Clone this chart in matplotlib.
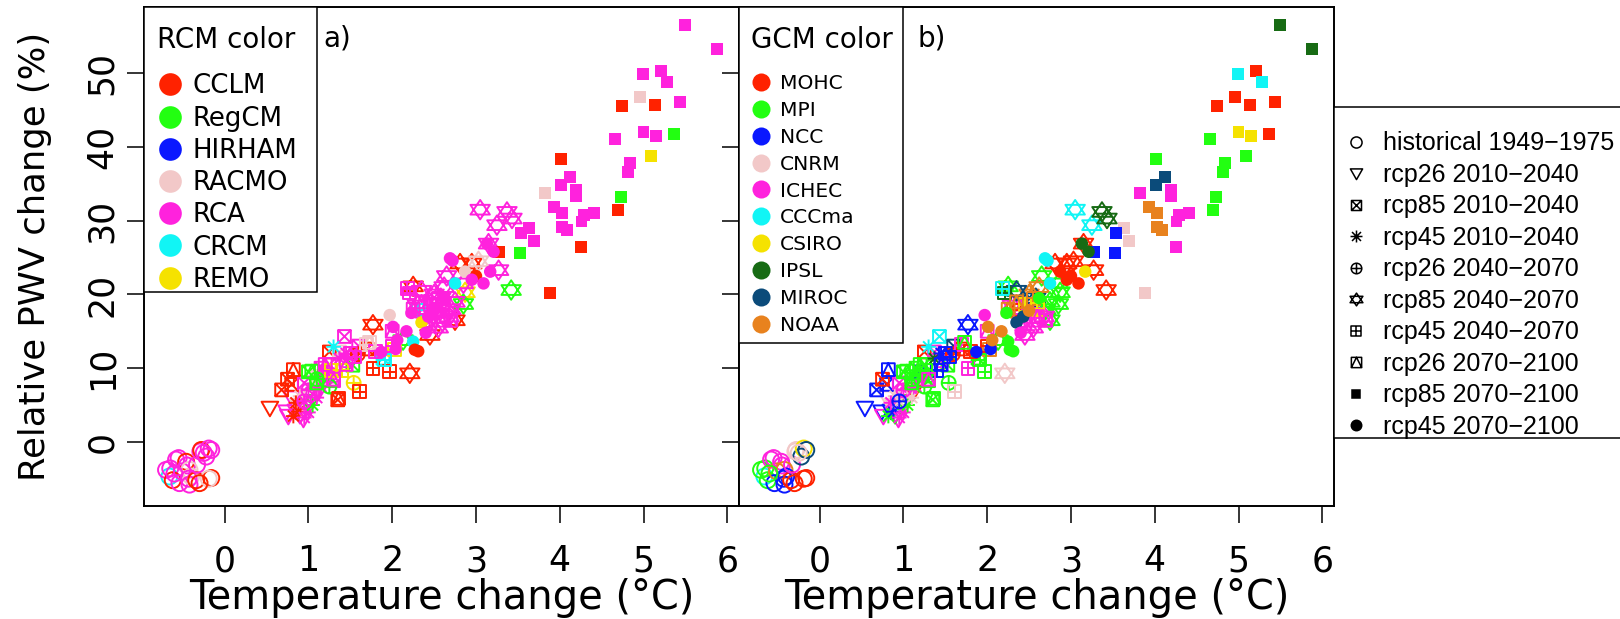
import matplotlib
matplotlib.use("Agg")
import matplotlib.pyplot as plt
from matplotlib.path import Path
from matplotlib.lines import Line2D
from matplotlib.patches import Rectangle

# ---------------- data ----------------
rcm_names = ["CCLM", "RegCM", "HIRHAM", "RACMO", "RCA", "CRCM", "REMO"]
rcm_colors = ["#FF2200", "#22FF11", "#0A18FF", "#F2C8C8", "#FF22DD", "#11F5F5", "#F5E200"]
gcm_names = ["MOHC", "MPI", "NCC", "CNRM", "ICHEC", "CCCma", "CSIRO", "IPSL", "MIROC", "NOAA"]
gcm_colors = ["#FF2200", "#22FF11", "#0A18FF", "#F2C8C8", "#FF22DD", "#11F5F5", "#F5E200",
              "#176B14", "#0B4B7A", "#E8821E"]

scenario_labels = ["historical 1949\u22121975", "rcp26 2010\u22122040", "rcp85 2010\u22122040",
                   "rcp45 2010\u22122040", "rcp26 2040\u22122070", "rcp85 2040\u22122070",
                   "rcp45 2040\u22122070", "rcp26 2070\u22122100", "rcp85 2070\u22122100",
                   "rcp45 2070\u22122100"]

# historical 1949-1975
hist_dt = [-0.66, -0.70, -0.65, -0.62, -0.58, -0.55, -0.54, -0.51, -0.46, -0.45, -0.42, -0.40, -0.43,
           -0.42, -0.34, -0.33, -0.29, -0.28, -0.22, -0.19, -0.16, -0.16, -0.19, -0.30, -0.60, -0.25]
hist_dp = [-4.7, -3.8, -3.6, -5.2, -2.4, -2.2, -5.6, -4.0, -2.7, -3.2, -3.8, -4.7, -5.0,
           -5.8, -5.2, -3.1, -1.3, -1.1, -2.0, -0.9, -1.1, -4.9, -5.0, -5.6, -4.3, -1.5]
hist_rcm = ["CRCM", "RCA", "RCA", "CCLM", "RCA", "RCA", "RCA", "RCA", "CCLM", "RCA", "RACMO", "RACMO", "RCA",
            "RCA", "CCLM", "RCA", "RCA", "CCLM", "RCA", "RCA", "RCA", "CCLM", "RACMO", "CCLM", "RCA", "RCA"]
hist_gcm = ["CCCma", "MPI", "MPI", "MPI", "ICHEC", "ICHEC", "NCC", "NOAA", "ICHEC", "ICHEC", "NOAA", "NCC", "NCC",
            "NCC", "MOHC", "ICHEC", "CNRM", "CNRM", "MIROC", "CSIRO", "MIROC", "MOHC", "MOHC", "MOHC", "MPI", "CNRM"]

# rcp26 2010-2040
r26a_dt = [0.54, 0.74, 0.76, 0.94, 0.85, 0.80, 0.90, 1.00, 1.12, 0.88]
r26a_dp = [4.6, 4.1, 3.5, 3.1, 4.2, 6.0, 3.6, 5.5, 6.8, 5.0]
r26a_rcm = ["CCLM", "RCA", "RCA", "RCA", "RCA", "RCA", "RCA", "RegCM", "RCA", "RACMO"]
r26a_gcm = ["NCC", "NCC", "ICHEC", "ICHEC", "NCC", "CNRM", "MPI", "MPI", "MOHC", "CNRM"]

# rcp85 2010-2040
r85a_dt = [0.68, 0.80, 0.75, 0.95, 1.10, 1.20, 1.25, 1.37, 1.43, 1.53, 1.89, 1.60, 1.35, 1.05, 1.30, 1.70,
           1.15, 1.45, 1.00, 1.25]
r85a_dp = [7.05, 7.8, 8.5, 8.0, 8.86, 9.5, 12.2, 12.2, 14.3, 10.4, 11.35, 13.0, 5.7, 6.5, 8.3, 12.6,
           10.0, 11.0, 9.5, 10.5]
r85a_rcm = ["CCLM", "CCLM", "CCLM", "RCA", "RACMO", "RCA", "CCLM", "RACMO", "RCA", "RegCM", "CRCM", "RCA",
            "CCLM", "RCA", "RCA", "CCLM", "RCA", "RCA", "RegCM", "RCA"]
r85a_gcm = ["NCC", "NCC", "MOHC", "ICHEC", "MPI", "NCC", "MOHC", "ICHEC", "CCCma", "MPI", "MPI", "MIROC",
            "MPI", "ICHEC", "MPI", "MOHC", "MPI", "ICHEC", "MPI", "MPI"]

# rcp45 2010-2040
r45a_dt = [0.82, 0.88, 0.90, 0.95, 1.00, 1.05, 1.10, 1.30, 1.37, 1.20, 0.85, 1.15, 0.95, 1.45]
r45a_dp = [3.5, 4.1, 6.2, 3.3, 4.0, 5.0, 6.0, 12.9, 11.3, 9.0, 5.3, 7.5, 5.5, 12.0]
r45a_rcm = ["CCLM", "CCLM", "RACMO", "RCA", "RCA", "RegCM", "RCA", "CRCM", "RCA", "RCA", "CCLM", "RCA",
            "RCA", "RCA"]
r45a_gcm = ["MPI", "NCC", "CNRM", "ICHEC", "ICHEC", "MPI", "CNRM", "CCCma", "IPSL", "MPI", "ICHEC", "ICHEC",
            "CNRM", "NCC"]

# rcp26 2040-2070
r26b_dt = [1.54, 1.59, 1.00, 1.10, 1.30, 0.95, 1.25]
r26b_dp = [8.0, 11.9, 7.0, 8.5, 9.0, 5.5, 7.5]
r26b_rcm = ["REMO", "CCLM", "RCA", "RegCM", "RCA", "RCA", "RegCM"]
r26b_gcm = ["MPI", "MOHC", "ICHEC", "MPI", "MPI", "NCC", "MPI"]

# rcp85 2040-2070
r85b_dt = [3.05, 3.25, 3.37, 3.43, 3.15, 3.27, 3.42, 2.65, 2.25, 2.87, 2.85, 2.75, 2.45, 2.21, 1.77,
           2.95, 2.81, 2.55, 2.60, 2.50, 2.58, 2.70, 2.40, 2.13, 3.03, 2.30,
           2.62, 2.75, 2.52, 2.85, 2.35, 2.68]
r85b_dp = [31.5, 29.4, 31.2, 30.3, 26.9, 23.3, 20.6, 22.5, 21.1, 20.3, 18.7, 16.5, 14.5, 9.3, 15.9,
           24.2, 24.2, 15.5, 16.3, 20.0, 19.5, 18.0, 17.5, 13.8, 24.5, 18.5,
           21.0, 19.0, 17.5, 21.5, 20.5, 17.0]
r85b_rcm = ["RCA", "RCA", "RCA", "RCA", "RCA", "RCA", "RegCM", "RCA", "CCLM", "REMO", "RegCM", "CCLM",
            "CCLM", "CCLM", "CCLM", "CCLM", "CCLM", "RCA", "RCA", "RCA", "RCA", "RCA", "RCA", "RegCM",
            "RACMO", "RCA", "RCA", "RCA", "RCA", "RCA", "RCA", "RCA"]
r85b_gcm = ["CCCma", "CCCma", "IPSL", "IPSL", "MOHC", "MOHC", "MOHC", "MPI", "MPI", "MPI", "MPI", "MPI",
            "ICHEC", "CNRM", "NCC", "MOHC", "MOHC", "ICHEC", "ICHEC", "NOAA", "MIROC", "MPI", "NOAA", "MPI",
            "MOHC", "ICHEC", "NOAA", "MPI", "ICHEC", "MPI", "MIROC", "ICHEC"]

# rcp45 2040-2070
r45b_dt = [2.21, 1.40, 1.61, 1.97, 1.77, 2.31, 2.45, 2.03, 1.91, 2.18, 1.69, 1.27, 1.55, 2.55,
           2.40, 2.60, 1.80, 2.00]
r45b_dp = [20.2, 9.7, 6.8, 9.5, 10.0, 17.9, 18.6, 12.5, 11.1, 20.8, 13.2, 9.7, 11.5, 19.5,
           16.5, 18.0, 12.3, 13.0]
r45b_rcm = ["RCA", "REMO", "CCLM", "CCLM", "CCLM", "CRCM", "RCA", "REMO", "CRCM", "RCA", "RACMO", "REMO",
            "RCA", "RCA", "RCA", "RCA", "RCA", "RCA"]
r45b_gcm = ["IPSL", "NCC", "CNRM", "MPI", "ICHEC", "MOHC", "CSIRO", "NOAA", "MPI", "CCCma", "ICHEC", "MPI",
            "NCC", "NOAA", "ICHEC", "CSIRO", "MOHC", "MOHC"]

# rcp26 2070-2100
r26c_dt = [0.82, 1.04, 1.10, 1.73, 1.36, 1.30, 1.20, 2.35, 2.60, 2.70, 2.00, 1.50, 2.45, 2.25, 1.45]
r26c_dp = [9.8, 9.6, 8.0, 13.5, 5.9, 8.5, 10.5, 19.0, 17.0, 16.5, 15.0, 12.0, 16.0, 18.0, 10.5]
r26c_rcm = ["CCLM", "RegCM", "RegCM", "RACMO", "CCLM", "RCA", "RCA", "RCA", "RCA", "RCA", "RCA", "RCA",
            "RCA", "RCA", "RCA"]
r26c_gcm = ["NCC", "MPI", "MPI", "MPI", "MPI", "ICHEC", "MPI", "NOAA", "ICHEC", "ICHEC", "ICHEC", "NCC",
            "ICHEC", "NOAA", "NCC"]

# rcp85 2070-2100
r85c_dt = [5.50, 5.88, 4.99, 5.21, 5.28, 4.96, 4.74, 5.14, 5.44, 4.66, 5.00, 5.15, 5.36, 5.09, 4.84,
           4.81, 4.73, 4.69, 4.01, 4.12, 4.02, 4.19, 4.19, 3.82, 3.93, 4.03, 4.29, 4.41, 4.26, 4.03,
           4.09, 3.63, 3.54, 3.69, 4.25, 3.88, 3.28, 3.52]
r85c_dp = [56.5, 53.3, 49.9, 50.3, 48.8, 46.8, 45.6, 45.7, 46.1, 41.1, 42.0, 41.5, 41.8, 38.8, 37.8,
           36.6, 33.2, 31.4, 38.4, 35.9, 34.8, 34.2, 33.4, 33.8, 31.9, 31.0, 30.8, 31.1, 29.9, 29.1,
           28.7, 29.0, 28.3, 27.2, 26.4, 20.2, 25.8, 25.6]
r85c_rcm = ["RCA", "RCA", "RCA", "RCA", "RCA", "RACMO", "CCLM", "CCLM", "RCA", "RCA", "RCA", "RCA",
            "RegCM", "REMO", "RCA", "RCA", "RegCM", "CCLM", "CCLM", "RCA", "RCA", "RCA", "RCA", "RACMO",
            "RCA", "RCA", "RCA", "RCA", "RCA", "RCA", "RCA", "RCA", "RCA", "RCA", "CCLM", "CCLM", "CCLM",
            "RegCM"]
r85c_gcm = ["IPSL", "IPSL", "CCCma", "MOHC", "CCCma", "MOHC", "MOHC", "MOHC", "MOHC", "MPI", "CSIRO",
            "CSIRO", "MOHC", "MPI", "MPI", "MPI", "MPI", "MPI", "MPI", "MIROC", "MIROC", "ICHEC", "ICHEC",
            "ICHEC", "NOAA", "NOAA", "ICHEC", "ICHEC", "ICHEC", "NOAA", "NOAA", "CNRM", "NCC", "CNRM",
            "ICHEC", "CNRM", "NCC", "NCC"]

# rcp45 2070-2100
r45c_dt = [2.69, 2.72, 2.87, 2.75, 3.00, 3.09, 3.17, 3.13, 3.21, 1.97, 2.35, 2.01, 2.25, 2.27, 2.31,
           2.17, 2.40, 1.87, 2.04, 2.23, 2.43, 2.06, 2.95, 2.50, 2.62]
r45c_dp = [24.9, 24.6, 23.1, 21.5, 22.5, 21.5, 23.1, 26.9, 25.8, 17.2, 16.2, 15.6, 13.6, 12.5, 12.3,
           15.0, 14.8, 12.2, 12.6, 17.5, 17.0, 13.8, 22.0, 17.8, 19.5]
r45c_rcm = ["RCA", "RCA", "RACMO", "CRCM", "CCLM", "RCA", "RCA", "RCA", "RCA", "RACMO", "REMO", "RCA",
            "CRCM", "CCLM", "CCLM", "RCA", "RCA", "RCA", "RCA", "RCA", "RCA", "RCA", "RCA", "RCA", "RCA"]
r45c_gcm = ["CCCma", "CCCma", "MOHC", "CCCma", "MOHC", "MOHC", "CSIRO", "IPSL", "IPSL", "ICHEC", "MIROC",
            "NOAA", "MPI", "MPI", "MPI", "NOAA", "ICHEC", "NCC", "NCC", "MPI", "MIROC", "NOAA", "MOHC",
            "NOAA", "MPI"]

# ---------------- markers (R pch 1,6,7,8,10,11,12,14,15,16) ----------------
MV, LN, CL = Path.MOVETO, Path.LINETO, Path.CLOSEPOLY


def seg_path(segs):
    verts, codes = [], []
    for a, b in segs:
        verts += [a, b]
        codes += [MV, LN]
    return Path(verts, codes)


square = Path([(-1, -1), (1, -1), (1, 1), (-1, 1), (-1, -1)], [MV, LN, LN, LN, CL])
cross = seg_path([((-1, 0), (1, 0)), ((0, -1), (0, 1))])
m_boxx = Path.make_compound_path(square, seg_path([((-1, -1), (1, 1)), ((-1, 1), (1, -1))]))
m_boxplus = Path.make_compound_path(square, cross)
m_boxtri = Path.make_compound_path(square, Path([(-1, -1), (0, 1), (1, -1)], [MV, LN, LN]))
m_aster = seg_path([((-1, 0), (1, 0)), ((0, -1), (0, 1)), ((-.75, -.75), (.75, .75)), ((-.75, .75), (.75, -.75))])
m_cplus = Path.make_compound_path(Path.unit_circle(), cross)
m_star = Path.make_compound_path(Path([(0, 1), (1, -0.5), (-1, -0.5), (0, 1)], [MV, LN, LN, CL]),
                                 Path([(0, -1), (1, 0.5), (-1, 0.5), (0, -1)], [MV, LN, LN, CL]))
m_dtri = Path([(-1, 0.75), (1, 0.75), (0, -1), (-1, 0.75)], [MV, LN, LN, CL])

# (marker, size in pt, hollow?, legend size)
styles = [("o", 11.5, True, 8.0), (m_dtri, 12.0, True, 8.8), (m_boxx, 9.2, True, 7.2),
          (m_aster, 10.5, True, 8.6), (m_cplus, 10.0, True, 7.6), (m_star, 14.0, True, 9.2),
          (m_boxplus, 9.2, True, 7.2), (m_boxtri, 9.2, True, 7.4), ("s", 8.6, False, 6.4),
          ("o", 9.0, False, 7.5)]

scen_data = [(hist_dt, hist_dp, hist_rcm, hist_gcm), (r26a_dt, r26a_dp, r26a_rcm, r26a_gcm),
             (r85a_dt, r85a_dp, r85a_rcm, r85a_gcm), (r45a_dt, r45a_dp, r45a_rcm, r45a_gcm),
             (r26b_dt, r26b_dp, r26b_rcm, r26b_gcm), (r85b_dt, r85b_dp, r85b_rcm, r85b_gcm),
             (r45b_dt, r45b_dp, r45b_rcm, r45b_gcm), (r26c_dt, r26c_dp, r26c_rcm, r26c_gcm),
             (r85c_dt, r85c_dp, r85c_rcm, r85c_gcm), (r45c_dt, r45c_dp, r45c_rcm, r45c_gcm)]

rcm_map = dict(zip(rcm_names, rcm_colors))
gcm_map = dict(zip(gcm_names, gcm_colors))

# ---------------- figure ----------------
W, H = 1620, 619
fig = plt.figure(figsize=(W / 100, H / 100), dpi=100)
L1, R1, R2, T, B = 144, 739, 1334, 7, 506
ax1 = fig.add_axes([L1 / W, 1 - B / H, (R1 - L1) / W, (B - T) / H])
ax2 = fig.add_axes([R1 / W, 1 - B / H, (R2 - R1) / W, (B - T) / H])

LW = 1.4
for ax, cmap, key in ((ax1, rcm_map, 2), (ax2, gcm_map, 3)):
    for (mk, ms, hollow, _), d in zip(styles, scen_data):
        cols = [cmap[k] for k in d[key]]
        if hollow:
            ax.scatter(d[0], d[1], marker=mk, s=ms ** 2, facecolors="none", edgecolors=cols,
                       linewidths=LW, zorder=2)
        else:
            ax.scatter(d[0], d[1], marker=mk, s=ms ** 2, c=cols, edgecolors="none", zorder=2)
    ax.set_xlim(-0.963, 6.14)
    ax.set_ylim(-8.7, 59.0)
    ax.set_xticks(range(0, 7))
    ax.set_yticks([0, 10, 20, 30, 40, 50])
    for sp in ax.spines.values():
        sp.set_linewidth(1.4)
    ax.tick_params(axis="both", direction="out", length=11.9, width=1.1, labelsize=25)
    ax.tick_params(axis="x", pad=15.5)
    ax.set_xlabel("Temperature change (\u00b0C)", fontsize=28.8)
    ax.xaxis.set_label_coords(0.5, -0.144)

ax1.tick_params(axis="y", labelrotation=90, pad=6)
for t in ax1.get_yticklabels():
    t.set_va("center")
ax2.tick_params(axis="y", labelleft=False)
ax1.set_ylabel("Relative PWV change (%)", fontsize=25.5)
ax1.yaxis.set_label_coords(-0.154, 0.5)

# panel labels
ax1.text((323 - L1) / (R1 - L1), 1 - (39 - T) / (B - T), "a)", transform=ax1.transAxes,
         fontsize=20, va="center", ha="left")
ax2.text((917 - R1) / (R2 - R1), 1 - (39 - T) / (B - T), "b)", transform=ax2.transAxes,
         fontsize=20, va="center", ha="left")


# ---------------- colour legends ----------------
def ax_left(ax):
    return L1 if ax is ax1 else R1


def colour_legend(ax, names, colors, title, box_r, box_b, title_x, fs_pt, msz, hl, htp, ls, first_top, hb_left):
    axw = (R1 - L1)
    ax.add_patch(Rectangle((0, 1 - (box_b - T) / (B - T)), (box_r - ax_left(ax)) / axw,
                           (box_b - T) / (B - T), transform=ax.transAxes, facecolor="white",
                           edgecolor="black", linewidth=1.1, zorder=4, clip_on=False))
    ax.text((title_x - ax_left(ax)) / axw, 1 - (40 - T) / (B - T), title, transform=ax.transAxes,
            fontsize=20, va="center", ha="left", zorder=6)
    handles = [Line2D([], [], linestyle="none", marker="o", markersize=msz, markerfacecolor=c,
                      markeredgecolor="none") for c in colors]
    leg = ax.legend(handles, names, loc="upper left",
                    bbox_to_anchor=((hb_left - ax_left(ax)) / axw, 1 - (first_top - T) / (B - T)),
                    frameon=False, fontsize=fs_pt, handlelength=hl, handletextpad=htp,
                    labelspacing=ls, borderpad=0, borderaxespad=0)
    leg.set_zorder(6)
    return leg


colour_legend(ax1, rcm_names, rcm_colors, "RCM color", 317, 292, 157, 18.7, 16.3, 1.0, 0.35, 0.24, 73.4, 157)
colour_legend(ax2, gcm_names, gcm_colors, "GCM color", 903, 343, 751, 14.6, 13.0, 1.0, 0.44, 0.39, 73.9, 751)

# ---------------- scenario (shape) legend ----------------
fig.add_artist(Rectangle((R2 / W, 1 - 438 / H), 300 / W, (438 - 107) / H, transform=fig.transFigure,
                         facecolor="white", edgecolor="black", linewidth=1.1))
shape_handles = [Line2D([], [], linestyle="none", marker=mk, markersize=lsz,
                        markerfacecolor=("none" if hollow else "black"), markeredgecolor="black",
                        markeredgewidth=1.1) for (mk, ms, hollow, lsz) in styles]
fig.legend(shape_handles, scenario_labels, loc="upper left",
           bbox_to_anchor=(1343.5 / W, 1 - 131.3 / H), frameon=False,
           prop={"family": "Liberation Sans", "size": 18}, handlelength=1.0, handletextpad=0.58,
           labelspacing=0.30, borderpad=0, borderaxespad=0)

fig.savefig("out.png", dpi=100)
